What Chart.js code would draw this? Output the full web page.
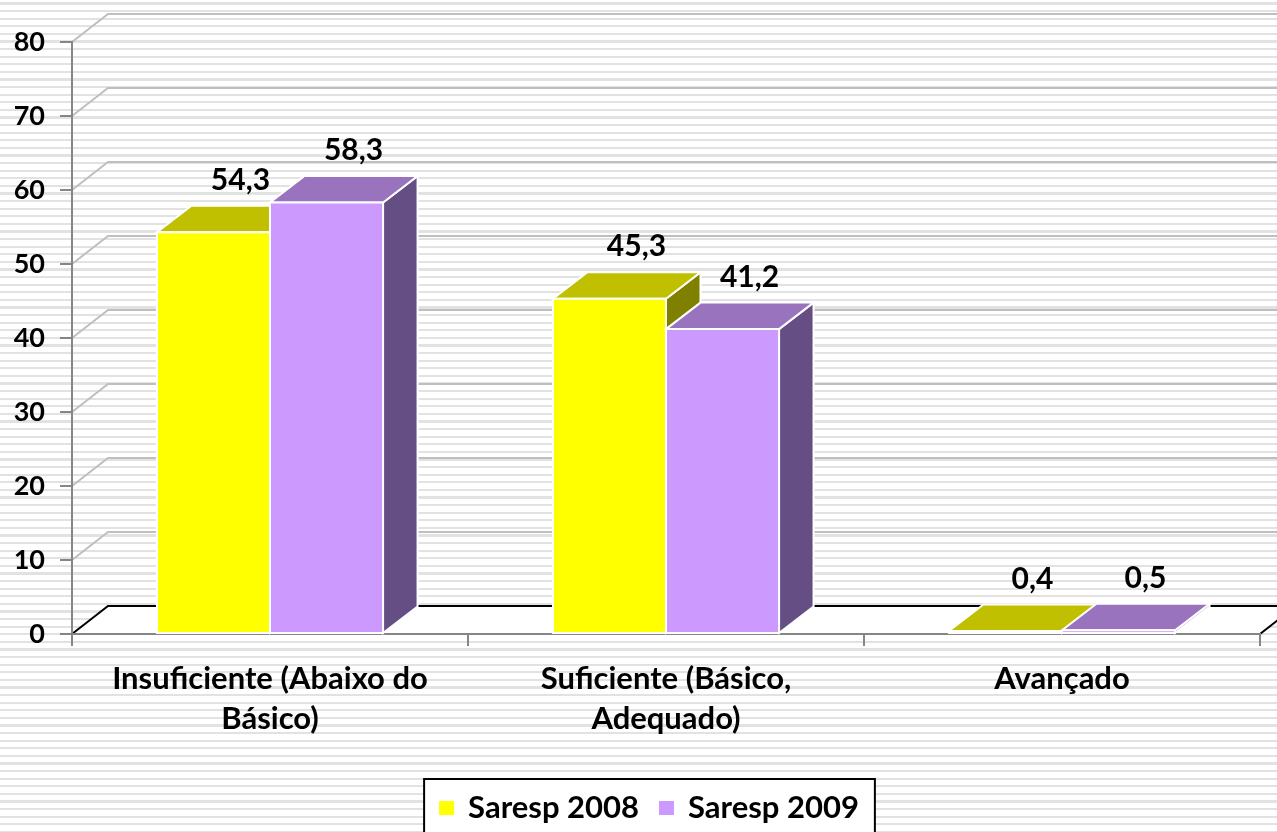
<!DOCTYPE html>
<html><head><meta charset="utf-8">
<script src="https://cdn.jsdelivr.net/npm/chart.js@4/dist/chart.umd.min.js"></script>
<style>
html,body{margin:0;padding:0;}
body{width:1277px;height:832px;overflow:hidden;background:repeating-linear-gradient(to bottom,#fff 0px,#fff 2.4px,#e2e2e2 2.4px,#e2e2e2 4.6px,#fff 4.6px,#fff 7.6px);}
canvas{display:block;}
</style></head><body>
<canvas id="c" width="1277" height="832"></canvas>
<script>
const categories = [['Insuficiente (Abaixo do', 'Básico)'], ['Suficiente (Básico,', 'Adequado)'], 'Avançado'];
const saresp2008 = [54.3, 45.3, 0.4];
const saresp2009 = [58.3, 41.2, 0.5];
const seriesNames = ['Saresp 2008', 'Saresp 2009'];
const yMin = 0, yMax = 80, yStep = 10;

const FRONT = ['#FFFF00', '#CC99FF'];
const TOP = ['#C0C000', '#9A73BF'];
const SIDE = ['#808000', '#644E83'];
const WALL_DX = 36, WALL_DY = -28, BAR_DX = 34.5, BAR_DY = -26.5;
const FONT = 'Lato';
const W8 = 'bold';

const threeD = {
  id: 'threeD',
  beforeDraw(chart) {
    const { ctx, chartArea: a, scales: { y } } = chart;
    const W = chart.width;
    ctx.save();
    ctx.lineWidth = 2;
    ctx.strokeStyle = '#bfbfbf';
    for (let v = yMin + yStep; v <= yMax; v += yStep) {
      const py = y.getPixelForValue(v);
      ctx.beginPath();
      ctx.moveTo(a.left, py);
      ctx.lineTo(a.left + WALL_DX, py + WALL_DY);
      ctx.lineTo(W + 5, py + WALL_DY);
      ctx.stroke();
    }
    const fy = y.getPixelForValue(0);
    ctx.fillStyle = '#fff';
    ctx.beginPath();
    ctx.moveTo(a.left, fy);
    ctx.lineTo(a.right, fy);
    ctx.lineTo(a.right + WALL_DX, fy + WALL_DY);
    ctx.lineTo(a.left + WALL_DX, fy + WALL_DY);
    ctx.closePath();
    ctx.fill();
    ctx.strokeStyle = '#000';
    ctx.beginPath();
    ctx.moveTo(a.left, fy);
    ctx.lineTo(a.left + WALL_DX, fy + WALL_DY);
    ctx.lineTo(W + 5, fy + WALL_DY);
    ctx.stroke();
    ctx.beginPath();
    ctx.moveTo(a.right, fy);
    ctx.lineTo(a.right + WALL_DX, fy + WALL_DY);
    ctx.stroke();
    ctx.restore();
  },
  afterDatasetsDraw(chart) {
    const { ctx } = chart;
    ctx.save();
    ctx.lineWidth = 2;
    ctx.strokeStyle = '#fff';
    ctx.lineJoin = 'miter';
    const n = chart.data.labels.length;
    const labels = [];
    for (let i = 0; i < n; i++) {
      chart.data.datasets.forEach((ds, d) => {
        const el = chart.getDatasetMeta(d).data[i];
        const p = el.getProps(['x', 'y', 'base', 'width'], true);
        const l = p.x - p.width / 2, r = p.x + p.width / 2, t = p.y, b = p.base;
        ctx.fillStyle = SIDE[d];
        ctx.beginPath();
        ctx.moveTo(r, t); ctx.lineTo(r + BAR_DX, t + BAR_DY); ctx.lineTo(r + BAR_DX, b + BAR_DY); ctx.lineTo(r, b); ctx.closePath();
        ctx.fill(); ctx.stroke();
        ctx.fillStyle = TOP[d];
        ctx.beginPath();
        ctx.moveTo(l, t); ctx.lineTo(r, t); ctx.lineTo(r + BAR_DX, t + BAR_DY); ctx.lineTo(l + BAR_DX, t + BAR_DY); ctx.closePath();
        ctx.fill(); ctx.stroke();
        ctx.fillStyle = FRONT[d];
        ctx.beginPath();
        ctx.rect(l, t, r - l, b - t);
        ctx.fill(); ctx.stroke();
        labels.push({ x: p.x + 27, y: t - 52, text: ds.data[i].toFixed(1).replace('.', ',') });
      });
    }
    ctx.fillStyle = '#000';
    ctx.font = W8 + ' 30px ' + FONT;
    ctx.textAlign = 'center';
    ctx.textBaseline = 'middle';
    labels.forEach(o => ctx.fillText(o.text, o.x, o.y));
    ctx.restore();
  },
  afterDraw(chart) {
    const { ctx } = chart;
    ctx.save();
    ctx.font = W8 + ' 31px ' + FONT;
    const BOX = 15, GAP = 14, ITEM_GAP = 20, PAD_L = 15, PAD_R = 16;
    const items = chart.data.datasets.map((ds, d) => ({ label: ds.label, color: FRONT[d], w: ctx.measureText(ds.label).width }));
    let total = PAD_L + PAD_R + ITEM_GAP * (items.length - 1);
    items.forEach(it => total += BOX + GAP + it.w);
    const left = 649.5 - total / 2, top = 779;
    ctx.fillStyle = '#fff';
    ctx.fillRect(left, top, total, 80);
    ctx.strokeStyle = '#000';
    ctx.lineWidth = 2;
    ctx.strokeRect(left, top, total, 80);
    let x = left + PAD_L;
    const cy = 808;
    ctx.textBaseline = 'middle';
    ctx.textAlign = 'left';
    items.forEach(it => {
      ctx.fillStyle = it.color;
      ctx.fillRect(x, cy - 7, BOX, 14);
      x += BOX + GAP;
      ctx.fillStyle = '#000';
      ctx.fillText(it.label, x, cy);
      x += it.w + ITEM_GAP;
    });
    ctx.restore();
  }
};

new Chart(document.getElementById('c'), {
  type: 'bar',
  data: {
    labels: categories,
    datasets: [
      { label: seriesNames[0], data: saresp2008, backgroundColor: FRONT[0], borderColor: '#fff', borderWidth: 2 },
      { label: seriesNames[1], data: saresp2009, backgroundColor: FRONT[1], borderColor: '#fff', borderWidth: 2 }
    ]
  },
  options: {
    responsive: false,
    animation: false,
    layout: { padding: { top: 42, right: 17, left: 0, bottom: 0 } },
    plugins: { legend: { display: false }, tooltip: { enabled: false } },
    datasets: { bar: { barPercentage: 1, categoryPercentage: 0.571 } },
    scales: {
      x: {
        grid: { drawOnChartArea: false, color: '#868686', lineWidth: 2, tickLength: 12, offset: true },
        border: { color: '#868686', width: 2 },
        ticks: { color: '#000', font: { family: FONT, weight: W8, size: 31, lineHeight: 1.29 }, padding: 13, maxRotation: 0, autoSkip: false },
        afterFit(s) { s.height = 198; }
      },
      y: {
        min: yMin, max: yMax,
        ticks: { stepSize: yStep, color: '#000', font: { family: FONT, weight: W8, size: 27 }, padding: 15 },
        grid: { drawOnChartArea: false, color: '#868686', lineWidth: 2, tickLength: 12 },
        border: { color: '#868686', width: 2 },
        afterFit(s) { s.width = 72; }
      }
    }
  },
  plugins: [threeD]
});
</script></body></html>
